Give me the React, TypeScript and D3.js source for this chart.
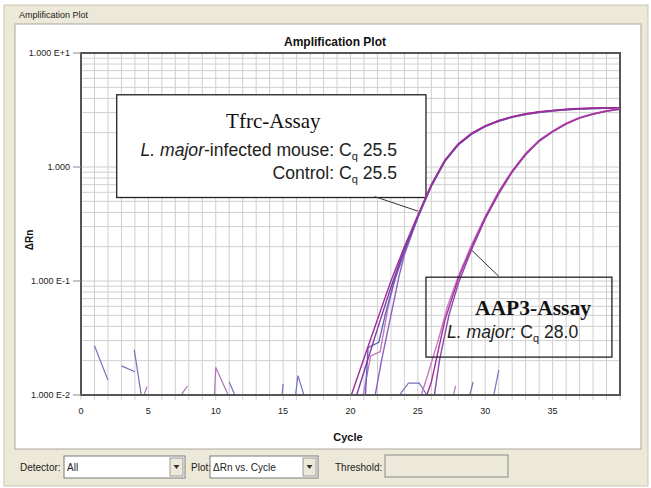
import React from "react";
import * as d3 from "d3";

// Amplification plot (ΔRn vs. Cycle), log scale
const yTickValues = [0.01, 0.1, 1, 10];
const yTickLabels = ["1.000 E-2", "1.000 E-1", "1.000", "1.000 E+1"];
const xTickValues = [0, 5, 10, 15, 20, 25, 30, 35];

// Tfrc-Assay replicates [cycle, ΔRn]
const tfrcA = [
  [20, 0.0095], [21, 0.021], [22, 0.046], [23, 0.1], [24, 0.2], [25, 0.38], [26, 0.7],
  [27, 1.15], [28, 1.6], [29, 1.98], [30, 2.3], [31, 2.56], [32, 2.77], [33, 2.93],
  [34, 3.05], [35, 3.14], [36, 3.21], [37, 3.26], [38, 3.29], [39, 3.31], [40, 3.32],
];
const tfrcB = [
  [20.4, 0.0095], [21, 0.016], [22, 0.038], [23, 0.088], [24, 0.19], [25, 0.37], [26, 0.69],
  [27, 1.13], [28, 1.58], [29, 1.96], [30, 2.28], [31, 2.54], [32, 2.75], [33, 2.91],
  [34, 3.03], [35, 3.12], [36, 3.19], [37, 3.24], [38, 3.27], [39, 3.29], [40, 3.3],
];
const tfrcC = [
  [21.1, 0.0095], [21.3, 0.026], [22.1, 0.029], [22.6, 0.052], [23.2, 0.095], [24, 0.18],
  [25, 0.36], [26, 0.68], [27, 1.12], [28, 1.57], [29, 1.95], [30, 2.27], [31, 2.53],
  [32, 2.74], [33, 2.9], [34, 3.02], [35, 3.11], [36, 3.18], [37, 3.23], [38, 3.26], [39, 3.28], [40, 3.29],
];
const tfrcD = [
  [20.9, 0.0095], [21.5, 0.022], [22.2, 0.024], [22.8, 0.06], [23.5, 0.13], [24, 0.19],
  [25, 0.37], [26, 0.7], [27, 1.14], [28, 1.59], [29, 1.97], [30, 2.29], [31, 2.55],
  [32, 2.76], [33, 2.92], [34, 3.04], [35, 3.13], [36, 3.2], [37, 3.25], [38, 3.28], [39, 3.3], [40, 3.31],
];
const tfrcE = [
  [21.8, 0.0095], [22.3, 0.02], [23, 0.05], [23.6, 0.11], [24, 0.17], [25, 0.36],
  [26, 0.68], [27, 1.12], [28, 1.56], [29, 1.94], [30, 2.26], [31, 2.52], [32, 2.73],
  [33, 2.89], [34, 3.01], [35, 3.1], [36, 3.17], [37, 3.22], [38, 3.25], [39, 3.27], [40, 3.28],
];

// AAP3-Assay replicates
const aapA = [
  [25.6, 0.0095], [26, 0.013], [27, 0.045], [28, 0.105], [29, 0.2], [30, 0.36], [31, 0.6],
  [32, 0.92], [33, 1.3], [34, 1.7], [35, 2.05], [36, 2.4], [37, 2.7], [38, 2.92], [39, 3.1], [40, 3.22],
];
const aapB = [
  [25.2, 0.0095], [25.8, 0.016], [26.5, 0.03], [27.2, 0.06], [28, 0.11], [29, 0.21],
  [30, 0.37], [31, 0.61], [32, 0.93], [33, 1.32], [34, 1.72], [35, 2.07], [36, 2.42],
  [37, 2.72], [38, 2.94], [39, 3.12], [40, 3.24],
];
const aapC = [
  [26.2, 0.0095], [26.6, 0.02], [27.3, 0.05], [28, 0.095], [29, 0.19], [30, 0.35],
  [31, 0.58], [32, 0.9], [33, 1.28], [34, 1.68], [35, 2.03], [36, 2.38], [37, 2.68],
  [38, 2.9], [39, 3.08], [40, 3.2],
];

// baseline noise fragments above the lower limit
const noiseBlue = [
  [[1, 0.027], [2, 0.0135]],
  [[3, 0.018], [4, 0.016]],
  [[3.95, 0.025], [4.5, 0.0095]],
  [[11, 0.013], [11.5, 0.0095]],
  [[14.9, 0.0095], [15, 0.0125]],
  [[15.9, 0.0095], [16.1, 0.0148], [16.6, 0.0095]],
  [[23.5, 0.0095], [24.3, 0.0127], [25.1, 0.0127], [25.8, 0.0095]],
  [[28.8, 0.0095], [29.1, 0.013]],
  [[30.6, 0.0095], [31, 0.0165]],
];
const noisePurple = [
  [[4.6, 0.0095], [4.9, 0.0118]],
  [[7.3, 0.0095], [7.9, 0.012]],
  [[9.9, 0.0095], [10, 0.0175], [11, 0.0095]],
  [[27.6, 0.0095], [27.8, 0.012]],
];

const curves = [
  { data: tfrcE, color: "#8f62c2" },
  { data: tfrcD, color: "#c777c4" },
  { data: tfrcC, color: "#6464b8" },
  { data: tfrcB, color: "#7d3aa6" },
  { data: tfrcA, color: "#a02c96" },
  { data: aapC, color: "#8a4aaa" },
  { data: aapB, color: "#c87ac4" },
  { data: aapA, color: "#a8309c" },
];

// annotation boxes in data space: [cycle0, cycle1], [valueTop, valueBottom]
const tfrcBox = { c: [2.65, 25.6], v: [4.3, 0.54] };
const tfrcPointer = [[21.8, 0.55], [25.0, 0.41]];
const aapBox = { c: [25.6, 39.4], v: [0.108, 0.0215] };
const aapPointer = [[29.0, 0.186], [31.0, 0.11]];

const sans = "'Liberation Sans', Arial, sans-serif";
const serif = "'Liberation Serif', 'Times New Roman', serif";

export default function App() {
  const left = 81, right = 620, top = 53, bottom = 395;
  const x = d3.scaleLinear().domain([0, 40]).range([left, right]);
  const y = d3.scaleLog().domain([0.01, 10]).range([bottom, top]);
  const line = d3.line<number[]>().x((d) => x(d[0])).y((d) => y(d[1]));

  const minor: number[] = [];
  [0.01, 0.1, 1].forEach((dec) => d3.range(1, 10).forEach((k) => minor.push(dec * k)));

  const tb = { x0: x(tfrcBox.c[0]), x1: x(tfrcBox.c[1]), y0: y(tfrcBox.v[0]), y1: y(tfrcBox.v[1]) };
  const ab = { x0: x(aapBox.c[0]), x1: x(aapBox.c[1]), y0: y(aapBox.v[0]), y1: y(aapBox.v[1]) };

  return (
    <svg width={651} height={488} style={{ position: "absolute", left: 0, top: 0 }}>
      <rect x={0} y={0} width={651} height={488} fill="#fff" />
      {/* window chrome */}
      <rect x={4} y={5} width={644} height={481} fill="#ece9d8" stroke="#c9c5b3" />
      <rect x={15} y={24} width={626} height={425} fill="#fff" stroke="#aca899" />
      <text x={19} y={18} fontFamily={sans} fontSize={9} fill="#222">Amplification Plot</text>

      <text x={335} y={46} textAnchor="middle" fontFamily={sans} fontSize={12} fontWeight="bold" fill="#111">
        Amplification Plot
      </text>

      <defs>
        <clipPath id="plot">
          <rect x={left} y={top} width={right - left} height={bottom - top} />
        </clipPath>
      </defs>

      {/* grid */}
      {d3.range(0, 41).map((c) => (
        <line key={"v" + c} x1={x(c)} x2={x(c)} y1={top} y2={bottom + 5} stroke="#cfcfcf" />
      ))}
      {minor.map((v) => (
        <line key={"h" + v} x1={left} x2={right} y1={y(v)} y2={y(v)} stroke="#cfcfcf" />
      ))}

      {/* Tfrc annotation box (opaque) */}
      <rect x={tb.x0} y={tb.y0} width={tb.x1 - tb.x0} height={tb.y1 - tb.y0} fill="#fff" stroke="#222" strokeWidth={1.3} />
      <text x={(tb.x0 + tb.x1) / 2 + 2} y={tb.y0 + 33} textAnchor="middle" fontFamily={serif} fontSize={21} fill="#111">
        Tfrc-Assay
      </text>
      <text x={tb.x1 - 29} y={tb.y0 + 61} textAnchor="end" fontFamily={sans} fontSize={17.6} fill="#222">
        <tspan fontStyle="italic">L. major</tspan>-infected mouse: C
        <tspan fontSize={11} dy={4}>q</tspan>
        <tspan dy={-4}> 25.5</tspan>
      </text>
      <text x={tb.x1 - 29} y={tb.y0 + 84} textAnchor="end" fontFamily={sans} fontSize={17.6} fill="#222">
        Control: C<tspan fontSize={11} dy={4}>q</tspan>
        <tspan dy={-4}> 25.5</tspan>
      </text>

      {/* curves */}
      <g clipPath="url(#plot)" fill="none">
        {noiseBlue.map((d, i) => (
          <path key={"nb" + i} d={line(d) || ""} stroke="#7272c0" strokeWidth={1.2} />
        ))}
        {noisePurple.map((d, i) => (
          <path key={"np" + i} d={line(d) || ""} stroke="#b070c0" strokeWidth={1.2} />
        ))}
        {curves.map((s, i) => (
          <path key={"c" + i} d={line(s.data) || ""} stroke={s.color} strokeWidth={1.4} />
        ))}
      </g>

      {/* pointers */}
      <path d={line(tfrcPointer) || ""} stroke="#333" strokeWidth={1} />
      <path d={line(aapPointer) || ""} stroke="#333" strokeWidth={1} />

      {/* AAP3 annotation box (transparent) */}
      <rect x={ab.x0} y={ab.y0} width={ab.x1 - ab.x0} height={ab.y1 - ab.y0} fill="none" stroke="#222" strokeWidth={1.3} />
      <text x={ab.x1 - 21} y={ab.y0 + 38} textAnchor="end" fontFamily={serif} fontSize={21.5} fontWeight="bold" fill="#111">
        AAP3-Assay
      </text>
      <text x={ab.x0 + 21} y={ab.y0 + 61} fontFamily={sans} fontSize={17.6} fill="#222">
        <tspan fontStyle="italic">L. major:</tspan> C<tspan fontSize={11} dy={4}>q</tspan>
        <tspan dy={-4}> 28.0</tspan>
      </text>

      {/* frame and axes */}
      <rect x={left} y={top} width={right - left} height={bottom - top} fill="none" stroke="#555" strokeWidth={2} />
      {yTickValues.map((v, i) => (
        <g key={"yt" + v}>
          <line x1={left - 8} x2={left} y1={y(v)} y2={y(v)} stroke="#888" />
          <text x={left - 11} y={y(v) + 3} textAnchor="end" fontFamily={sans} fontSize={9} fill="#222">
            {yTickLabels[i]}
          </text>
        </g>
      ))}
      {xTickValues.map((c) => (
        <text key={"xt" + c} x={x(c)} y={414} textAnchor="middle" fontFamily={sans} fontSize={9} fill="#222">
          {c}
        </text>
      ))}
      <text x={348} y={441} textAnchor="middle" fontFamily={sans} fontSize={11} fontWeight="bold" fill="#111">
        Cycle
      </text>
      <text transform="translate(33,240) rotate(-90)" textAnchor="middle" fontFamily={sans} fontSize={10} fontWeight="bold" fill="#111">
        ΔRn
      </text>

      {/* controls */}
      <text x={20} y={471} fontFamily={sans} fontSize={10} fill="#222">Detector:</text>
      <rect x={64} y={456} width={121} height={22} fill="#fff" stroke="#7a7a7a" />
      <text x={67} y={471} fontFamily={sans} fontSize={10} fill="#222">All</text>
      <rect x={170} y={458} width={13} height={18} fill="#ece9d8" stroke="#9a9a9a" />
      <path d="M173.5,465 L179.5,465 L176.5,469 Z" fill="#333" />

      <text x={191} y={471} fontFamily={sans} fontSize={10} fill="#222">Plot:</text>
      <rect x={210} y={456} width={108} height={22} fill="#fff" stroke="#7a7a7a" />
      <text x={213} y={471} fontFamily={sans} fontSize={10} fill="#222">ΔRn vs. Cycle</text>
      <rect x={303} y={458} width={13} height={18} fill="#ece9d8" stroke="#9a9a9a" />
      <path d="M306.5,465 L312.5,465 L309.5,469 Z" fill="#333" />

      <text x={335} y={471} fontFamily={sans} fontSize={10} fill="#222">Threshold:</text>
      <rect x={385} y={455} width={123} height={22} fill="#ece9d8" stroke="#8a8a8a" />
    </svg>
  );
}
